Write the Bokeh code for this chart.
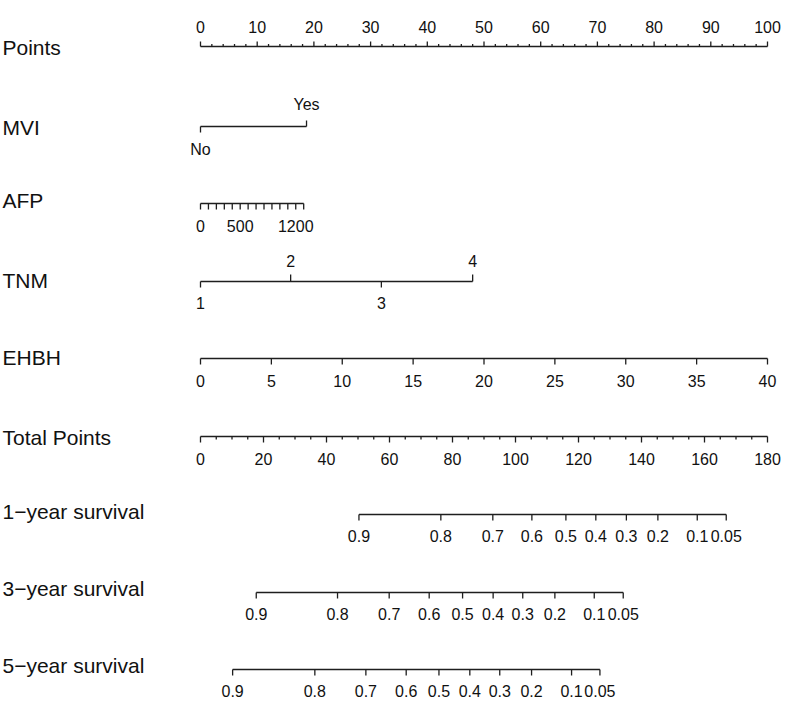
from bokeh.plotting import figure
from bokeh.models import Range1d
from bokeh.core.properties import value
from bokeh.embed import file_html
from bokeh.resources import INLINE

# ---------------- data ----------------
row_titles = ["Points", "MVI", "AFP", "TNM", "EHBH", "Total Points",
              "1\u2212year survival", "3\u2212year survival", "5\u2212year survival"]

points_major = list(range(0, 101, 10))
points_minor = [v for v in range(0, 101, 2) if v % 10]

mvi_levels = ["No", "Yes"]
mvi_points = [0.0, 18.7]

afp_ticks = list(range(0, 1301, 100))
afp_labels = [0, 500, 1200]
afp_max_value = 1300
afp_max_points = 18.2

tnm_levels = ["1", "2", "3", "4"]
tnm_points = [0.0, 15.9, 31.9, 48.0]

ehbh_ticks = list(range(0, 41, 5))
ehbh_max_value = 40
ehbh_max_points = 100.0

total_major = list(range(0, 181, 20))
total_minor = [v for v in range(0, 181, 5) if v % 20]
total_max = 180

surv_labels = ["0.9", "0.8", "0.7", "0.6", "0.5", "0.4", "0.3", "0.2", "0.1", "0.05"]
surv1_total = [50.3, 76.3, 92.8, 105.2, 116.0, 125.5, 135.2, 145.2, 157.7, 166.9]
surv3_total = [17.7, 43.5, 59.9, 72.6, 83.2, 92.9, 102.3, 112.5, 125.0, 134.2]
surv5_total = [10.2, 36.3, 52.5, 65.3, 75.7, 85.5, 95.0, 105.1, 117.8, 126.8]

# ---------------- layout ----------------
W, H = 784, 700
PX_PER_POINT = 5.67
X0 = -200 / PX_PER_POINT
X1 = X0 + W / PX_PER_POINT

LINE_COL = "#1e1e1e"
TXT_COL = "#111111"
FONT = value("Liberation Sans")
TICK_FS = "16px"
TITLE_FS = "21px"
LW = 1.3

p = figure(width=W, height=H, x_range=Range1d(X0, X1), y_range=Range1d(H, 0),
           output_backend="svg", toolbar_location=None, min_border=0,
           x_axis_location=None, y_axis_location=None)
p.grid.visible = False
p.outline_line_color = None
p.background_fill_color = "white"
p.border_fill_color = "white"


def tot_to_pts(t):
    return t * 100.0 / total_max


def hline(x_start, x_end, y):
    p.segment(x0=[x_start], y0=[y], x1=[x_end], y1=[y], line_color=LINE_COL, line_width=LW)


def ticks(xs, y, length):
    p.segment(x0=xs, y0=[y] * len(xs), x1=xs, y1=[y + length] * len(xs),
              line_color=LINE_COL, line_width=LW)


def labels(xs, y, texts):
    p.text(x=xs, y=[y] * len(xs), text=texts, text_align="center",
           text_baseline="middle", text_font=FONT, text_font_size=TICK_FS,
           text_color=TXT_COL)


# row line positions (screen px)
y_points, y_mvi, y_afp, y_tnm, y_ehbh, y_total, y_s1, y_s3, y_s5 = (
    46, 126, 203, 281, 358, 436, 514, 592, 669)
title_y = [47, 127, 200, 280, 357, 437, 511, 588, 665]

# titles
p.text(x=[X0 + 2 / PX_PER_POINT] * len(row_titles), y=title_y, text=row_titles,
       text_align="left", text_baseline="middle", text_font=FONT,
       text_font_size=TITLE_FS, text_color=TXT_COL)

# Points
hline(points_major[0], points_major[-1], y_points)
ticks(points_major, y_points, -5)
ticks(points_minor, y_points, -2.5)
labels(points_major, y_points - 20, [str(v) for v in points_major])

# MVI
hline(mvi_points[0], mvi_points[1], y_mvi)
ticks([mvi_points[0]], y_mvi, 6)
ticks([mvi_points[1]], y_mvi, -6)
labels([mvi_points[0]], y_mvi + 23, [mvi_levels[0]])
labels([mvi_points[1]], y_mvi - 22, [mvi_levels[1]])

# AFP
afp_x = [v / afp_max_value * afp_max_points for v in afp_ticks]
hline(afp_x[0], afp_x[-1], y_afp)
ticks(afp_x, y_afp, 6)
labels([v / afp_max_value * afp_max_points for v in afp_labels], y_afp + 22,
       [str(v) for v in afp_labels])

# TNM
hline(tnm_points[0], tnm_points[-1], y_tnm)
down = [0, 2]
up = [1, 3]
ticks([tnm_points[i] for i in down], y_tnm, 6)
ticks([tnm_points[i] for i in up], y_tnm, -7)
labels([tnm_points[i] for i in down], y_tnm + 21, [tnm_levels[i] for i in down])
labels([tnm_points[i] for i in up], y_tnm - 21, [tnm_levels[i] for i in up])

# EHBH
ehbh_x = [v / ehbh_max_value * ehbh_max_points for v in ehbh_ticks]
hline(ehbh_x[0], ehbh_x[-1], y_ehbh)
ticks(ehbh_x, y_ehbh, 6)
labels(ehbh_x, y_ehbh + 22, [str(v) for v in ehbh_ticks])

# Total Points
tmaj = [tot_to_pts(v) for v in total_major]
tmin = [tot_to_pts(v) for v in total_minor]
hline(tmaj[0], tmaj[-1], y_total)
ticks(tmaj, y_total, 6)
ticks(tmin, y_total, 3)
labels(tmaj, y_total + 22, [str(v) for v in total_major])

# survival rows
for tot, yy in ((surv1_total, y_s1), (surv3_total, y_s3), (surv5_total, y_s5)):
    xs = [tot_to_pts(v) for v in tot]
    hline(min(xs), max(xs), yy)
    ticks(xs, yy, 6)
    labels(xs, yy + 21, surv_labels)

open("out.html", "w").write(file_html(p, INLINE))
